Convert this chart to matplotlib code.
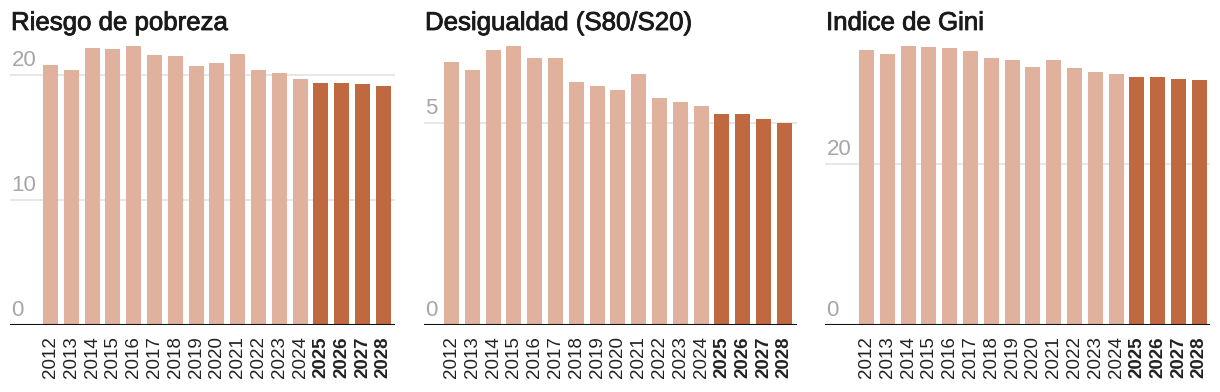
import numpy as np
import matplotlib
matplotlib.use("Agg")
import matplotlib.pyplot as plt
import matplotlib.patheffects as pe

plt.rcParams["font.family"] = ["Liberation Sans", "DejaVu Sans"]

years = [str(y) for y in range(2012, 2029)]
first_forecast = "2025"

pobreza = [20.8, 20.4, 22.2, 22.1, 22.3, 21.6, 21.5, 20.7, 21.0, 21.7, 20.4, 20.2, 19.7, 19.4, 19.4, 19.3, 19.1]
s80s20 = [6.5, 6.3, 6.8, 6.9, 6.6, 6.6, 6.0, 5.9, 5.8, 6.2, 5.6, 5.5, 5.4, 5.2, 5.2, 5.1, 5.0]
gini = [34.2, 33.7, 34.7, 34.6, 34.5, 34.1, 33.2, 33.0, 32.1, 33.0, 32.0, 31.5, 31.3, 30.9, 30.9, 30.6, 30.5]

titles = ["Riesgo de pobreza", "Desigualdad (S80/S20)", "Indice de Gini"]
yticks = [[0, 10, 20], [0, 5], [0, 20]]
ytops = [22.8, 7.04, 35.5]

LIGHT = "#e0b19c"
DARK = "#c06840"
W, H = 1220, 392

# pixel layout of each panel: axis line left/right, centre of first bar
panels = [(10, 395, 50.5), (424, 797, 451.5), (825, 1210, 866.5)]
pitch = 20.8
top_px, base_px = 40, 325

fig = plt.figure(figsize = (W / 100, H / 100), dpi = 100)

def draw_panel(k, values):
  left, right, c0 = panels[k]
  ax = fig.add_axes([left / W, (H - base_px) / H, (right - left) / W, (base_px - top_px) / H])
  x = np.arange(len(years))
  colors = [DARK if y >= first_forecast else LIGHT for y in years]
  ax.bar(x, values, width = 0.72, color = colors, zorder = 2)
  ax.set_xlim((left - c0) / pitch, (right - c0) / pitch)
  ax.set_ylim(0, ytops[k])
  for s in ax.spines.values():
    s.set_visible(False)
  ax.set_yticks([])
  for v in yticks[k]:
    if v == 0:
      ax.axhline(0, color = "#111111", lw = 1.5, zorder = 3)
    else:
      ax.axhline(v, color = "#e3e3e3", lw = 1.2, zorder = 1)
    ax.annotate(str(v), xy = (0, v), xycoords = ("axes fraction", "data"),
                xytext = (1, 6.5), textcoords = "offset points",
                ha = "left", va = "baseline", fontsize = 16, color = "#a6a6a6")
  ax.set_xticks(x)
  ax.set_xticklabels(years, rotation = 90, fontsize = 13.5, color = "#222222")
  for lab, y in zip(ax.get_xticklabels(), years):
    if y >= first_forecast:
      lab.set_fontweight("bold")
  ax.tick_params(axis = "x", length = 0, pad = 8)
  t = fig.text((left + 1) / W, 1 - 30 / H, titles[k], fontsize = 18.6,
               color = "#1a1a1a", ha = "left", va = "baseline")
  t.set_path_effects([pe.withStroke(linewidth = 0.6, foreground = "#1a1a1a")])
  return ax

for k, vals in enumerate([pobreza, s80s20, gini]):
  draw_panel(k, vals)

fig.savefig("out.png", dpi = 100)
